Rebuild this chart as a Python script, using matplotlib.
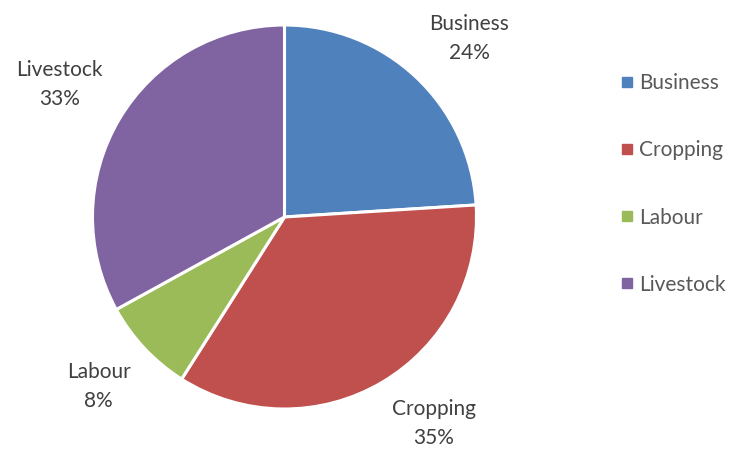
import numpy as np
import matplotlib.pyplot as plt
from matplotlib.lines import Line2D

# income sources, share of households (%)
sources = ["Business", "Cropping", "Labour", "Livestock"]
shares = [24, 35, 8, 33]
colours = ["#4F81BD", "#C0504D", "#9BBB59", "#8064A2"]

plt.rcParams['font.family'] = ['Lato', 'DejaVu Sans']

W, H = 731, 453
fig = plt.figure(figsize=(W / 100, H / 100), dpi=100)

# pie centre and radius in pixels
cx, cy, r = 284.5, 217, 192
ax = fig.add_axes([(cx - r) / W, (H - cy - r) / H, 2 * r / W, 2 * r / H])

wedges, _ = ax.pie(shares, colors=colours, startangle=90, counterclock=False,
                   radius=1.0, wedgeprops=dict(edgecolor='white', linewidth=2.2))
ax.set_xlim(-1, 1)
ax.set_ylim(-1, 1)
ax.set_aspect('equal')
ax.axis('off')

# category + percent labels: box corner sits just outside the slice middle
total = float(sum(shares))
start = 90.0
for name, val in zip(sources, shares):
    mid = start - 360.0 * val / total / 2
    start -= 360.0 * val / total
    a = np.deg2rad(mid)
    x, y = 1.1 * np.cos(a), 1.1 * np.sin(a)
    ax.text(x, y, "{}\n{}%".format(name, val),
            ha='left' if x > 0 else 'right', va='bottom' if y > 0 else 'top',
            multialignment='center', fontsize=15, color='#404040',
            linespacing=1.58, clip_on=False)

handles = [Line2D([], [], marker='s', linestyle='none', markersize=6.5,
                  markerfacecolor=c, markeredgecolor=c) for c in colours]
fig.legend(handles, sources, loc='upper left', bbox_to_anchor=(612 / W, 1 - 65 / H),
           frameon=False, fontsize=15, labelcolor='#595959', labelspacing=2.26,
           handlelength=0.6, handletextpad=0.3, borderaxespad=0)

fig.savefig("out.png", dpi=100)
